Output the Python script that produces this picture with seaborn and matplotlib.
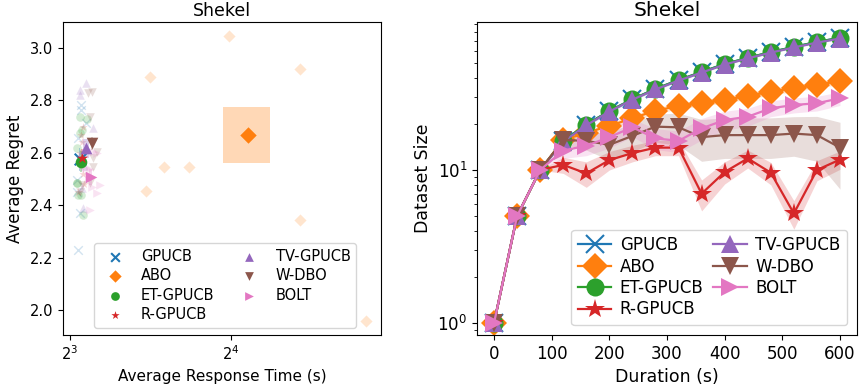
import numpy as np
import pandas as pd
import matplotlib
matplotlib.use("Agg")
import matplotlib.pyplot as plt
import seaborn as sns

algos = ["GPUCB", "ABO", "ET-GPUCB", "R-GPUCB", "TV-GPUCB", "W-DBO", "BOLT"]
markers = ["x", "D", "o", "*", "^", "v", ">"]
colors = sns.color_palette("tab10", 7)

# ---------------- left panel data: response time vs regret ----------------
pts_x = {
    "GPUCB": [8.38, 8.38, 8.57, 8.30, 8.23, 8.26, 8.35, 8.30],
    "ABO": [15.87, 21.5, 21.5, 28.6, 11.3, 12.0, 13.35, 11.1],
    "ET-GPUCB": [8.35, 8.60, 8.42, 8.35, 8.23, 8.23, 8.38, 8.48, 8.26, 8.30],
    "R-GPUCB": [8.38, 8.42, 8.45, 8.35, 8.40, 8.50, 8.45, 8.30],
    "TV-GPUCB": [8.57, 8.35, 8.35, 8.85, 8.45, 8.42, 8.50, 8.40],
    "W-DBO": [8.78, 8.66, 8.72, 8.98, 8.85, 8.85, 8.72, 8.42, 8.35],
    "BOLT": [9.10, 8.98, 8.72, 8.57, 8.72, 8.85, 8.98, 8.80],
}
pts_y = {
    "GPUCB": [2.782, 2.763, 2.713, 2.656, 2.496, 2.452, 2.369, 2.229],
    "ABO": [3.046, 2.920, 2.343, 1.958, 2.889, 2.546, 2.546, 2.454],
    "ET-GPUCB": [2.735, 2.728, 2.687, 2.674, 2.617, 2.486, 2.439, 2.363, 2.484, 2.440],
    "R-GPUCB": [2.668, 2.642, 2.700, 2.600, 2.550, 2.480, 2.520, 2.450],
    "TV-GPUCB": [2.865, 2.840, 2.821, 2.694, 2.388, 2.465, 2.550, 2.600],
    "W-DBO": [2.833, 2.829, 2.738, 2.604, 2.579, 2.547, 2.484, 2.477, 2.452],
    "BOLT": [2.477, 2.445, 2.382, 2.541, 2.540, 2.604, 2.598, 2.470],
}
mean_x = [8.34, 17.2, 8.38, 8.43, 8.57, 8.80, 8.75]
mean_y = [2.575, 2.668, 2.566, 2.579, 2.617, 2.636, 2.509]
err_x = [0.02, 1.75, 0.03, 0.03, 0.10, 0.03, 0.06]
err_y = [0.045, 0.107, 0.040, 0.035, 0.035, 0.025, 0.030]

# ---------------- right panel data: dataset size vs duration ----------------
duration = [0, 40, 80, 120, 160, 200, 240, 280, 320, 360, 400, 440, 480, 520, 560, 600]
size_mean = {
    "GPUCB":    [1, 5, 10, 15.5, 19.8, 24.3, 29.0, 33.9, 38.7, 43.7, 49.3, 54.0, 59.0, 63.7, 68.7, 73.0],
    "ABO":      [1, 5, 10, 15.7, 17.5, 19.4, 21.8, 24.4, 26.2, 27.5, 28.7, 30.5, 32.5, 34.2, 36.0, 38.2],
    "ET-GPUCB": [1, 5, 10, 15.5, 19.8, 24.3, 29.0, 33.9, 38.7, 43.7, 49.3, 54.0, 59.0, 63.7, 68.7, 73.0],
    "R-GPUCB":  [1, 5, 10, 10.8, 9.5, 11.6, 12.9, 14.0, 14.0, 7.0, 9.7, 11.9, 9.6, 5.2, 10.0, 11.7],
    "TV-GPUCB": [1, 5, 10, 15.3, 19.6, 24.1, 28.8, 33.6, 38.4, 43.3, 48.9, 53.6, 58.5, 63.2, 68.0, 72.3],
    "W-DBO":    [1, 5, 10, 15.7, 15.5, 14.6, 16.7, 19.2, 19.0, 16.4, 16.9, 16.9, 16.9, 17.3, 16.9, 14.0],
    "BOLT":     [1, 5, 10, 13.4, 14.4, 16.4, 19.0, 16.1, 15.5, 18.7, 21.2, 22.3, 25.3, 26.6, 27.3, 29.4],
}
size_std = {
    "GPUCB":    [0, 0, 0, 0.3, 0.4, 0.5, 0.5, 0.6, 0.6, 0.7, 0.7, 0.8, 0.8, 0.9, 0.9, 1.0],
    "ABO":      [0, 0, 0, 0.4, 0.6, 0.8, 1.0, 1.1, 1.2, 1.3, 1.4, 1.5, 1.6, 1.7, 1.8, 1.9],
    "ET-GPUCB": [0, 0, 0, 0.3, 0.4, 0.5, 0.5, 0.6, 0.6, 0.7, 0.7, 0.8, 0.8, 0.9, 0.9, 1.0],
    "R-GPUCB":  [0, 0, 0, 1.3, 1.8, 1.6, 1.6, 1.6, 1.6, 1.6, 1.6, 1.6, 1.6, 1.1, 1.5, 1.6],
    "TV-GPUCB": [0, 0, 0, 0.3, 0.4, 0.5, 0.5, 0.6, 0.6, 0.7, 0.7, 0.8, 0.8, 0.9, 0.9, 1.0],
    "W-DBO":    [0, 0, 0, 1.0, 2.0, 3.0, 3.5, 4.0, 4.5, 5.0, 5.0, 5.0, 5.0, 5.0, 5.5, 6.5],
    "BOLT":     [0, 0, 0, 1.5, 2.0, 2.5, 2.5, 2.5, 2.5, 3.0, 3.0, 3.0, 3.0, 3.0, 3.0, 3.0],
}

W, H = 859, 389
fig = plt.figure(figsize=(W / 100, H / 100), dpi=100)
axL = fig.add_axes([63 / W, 1 - 335 / H, 318 / W, 313 / H])
axR = fig.add_axes([477 / W, 1 - 335 / H, 380 / W, 313 / H])

# ---------- left ----------
rows = []
for a in algos:
    for xv, yv in zip(pts_x[a], pts_y[a]):
        rows.append({"algo": a, "time": xv, "regret": yv})
dfL = pd.DataFrame(rows)
for i, a in enumerate(algos):
    sub = dfL[dfL.algo == a]
    sns.scatterplot(data=sub, x="time", y="regret", ax=axL, marker=markers[i],
                    color=colors[i], alpha=0.2, s=38, linewidth=1 if markers[i] == "x" else 0,
                    legend=False)
for i, a in enumerate(algos):
    axL.fill_between([mean_x[i] - err_x[i], mean_x[i] + err_x[i]],
                     mean_y[i] - err_y[i], mean_y[i] + err_y[i],
                     color=colors[i], alpha=0.3, linewidth=0)
dfM = pd.DataFrame({"algo": algos, "time": mean_x, "regret": mean_y})
for i, a in enumerate(algos):
    sns.scatterplot(data=dfM[dfM.algo == a], x="time", y="regret", ax=axL,
                    marker=markers[i], color=colors[i], s=70,
                    linewidth=1.5 if markers[i] == "x" else 0, label=a, zorder=5)
axL.set_xscale("log", base=2)
axL.set_xlim(2 ** 2.957, 2 ** 4.93)
axL.set_ylim(1.905, 3.099)
axL.set_yticks([2.0, 2.2, 2.4, 2.6, 2.8, 3.0])
axL.set_xticks([8, 16])
axL.minorticks_off()
axL.set_xlabel("Average Response Time (s)", fontsize=11)
axL.set_ylabel("Average Regret", fontsize=12)
axL.set_title("Shekel", fontsize=12.5, pad=4)
axL.tick_params(labelsize=10.5)
axL.legend(ncol=2, loc="lower center", fontsize=10.5, bbox_to_anchor=(0.51, 0.0),
           columnspacing=1.4, handletextpad=0.8, labelspacing=0.3, markerscale=0.75)

# ---------- right ----------
for i, a in enumerate(algos):
    m = np.array(size_mean[a], dtype=float)
    s = np.array(size_std[a], dtype=float)
    dfR = pd.DataFrame({"duration": duration, "size": m})
    sns.lineplot(data=dfR, x="duration", y="size", ax=axR, color=colors[i],
                 marker=markers[i], markersize=13 if markers[i] != "*" else 15,
                 markeredgewidth=1.5 if markers[i] == "x" else 0,
                 markeredgecolor=colors[i],
                 linewidth=1.6, label=a)
    axR.fill_between(duration, m - s, m + s, color=colors[i], alpha=0.2, linewidth=0)
axR.set_yscale("log")
axR.set_xlim(-29.5, 629.5)
axR.set_ylim(0.835, 92.7)
axR.set_xticks([0, 100, 200, 300, 400, 500, 600])
axR.set_xlabel("Duration (s)", fontsize=12.5)
axR.set_ylabel("Dataset Size", fontsize=12.5)
axR.set_title("Shekel", fontsize=14.5, pad=4)
axR.tick_params(labelsize=12)
axR.legend(ncol=2, loc="lower right", fontsize=12, columnspacing=0.6,
           handletextpad=0.5, labelspacing=0.2, markerscale=1.0, handlelength=2.0,
           borderaxespad=0.6)

fig.savefig("out.png", dpi=100)
